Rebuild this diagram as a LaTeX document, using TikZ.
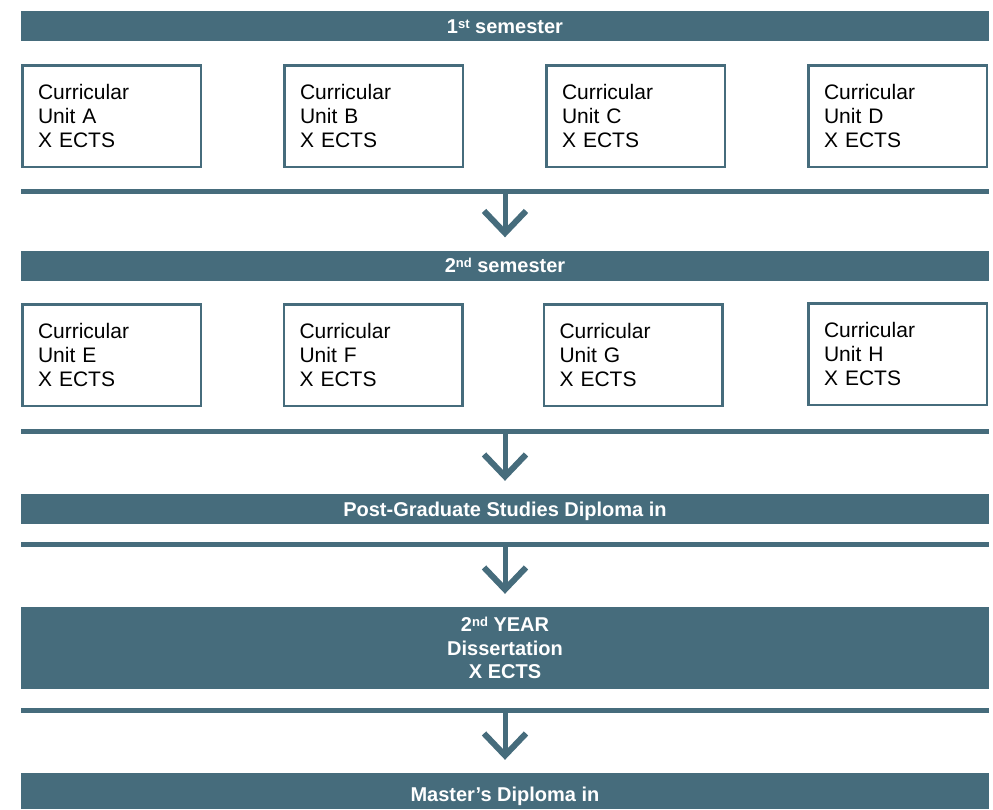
\documentclass[tikz,border=0pt]{standalone}
\usepackage{fontspec}
\setmainfont{Liberation Sans}
\usetikzlibrary{positioning,arrows.meta}
\definecolor{slate}{RGB}{70,108,124}
\newcommand{\cunit}[1]{Curricular\\Unit #1\\X ECTS}
\newcommand{\ordsup}[1]{\raisebox{5pt}{\fontsize{13}{13}\selectfont #1}}
\tikzset{
	bar/.style={fill=slate, text=white, font=\bfseries\fontsize{20}{24}\selectfont,
		minimum width=968pt, minimum height=30pt, inner sep=0pt, text height=14pt, text depth=0pt},
	sepline/.style={fill=slate, minimum width=968pt, minimum height=5pt, inner sep=0pt},
	ucbox/.style={draw=slate, line width=2.5pt, minimum width=178.5pt, minimum height=101.5pt,
		text width=147pt, align=left, inner sep=0pt, font=\fontsize{21}{24}\selectfont},
	down/.style={draw=slate, line width=5pt, -{Straight Barb[length=22pt,width=42pt,line width=6pt]}, shorten >=13pt}
}

\begin{document}
\begin{tikzpicture}[x=1pt,y=-1pt]
	\useasboundingbox (0,0) rectangle (993,809);

	% first semester
	\node[bar] (sem1) at (505,26) {1\ordsup{st} semester};
	\node[ucbox] (ua) at (111.5,116) {\cunit{A}};
	\node[ucbox] (ub) at (373.5,116) {\cunit{B}};
	\node[ucbox] (uc) at (635.5,116) {\cunit{C}};
	\node[ucbox] (ud) at (897.5,116) {\cunit{D}};
	\node[sepline] (sep1) at (505,191) {};

	% second semester
	\node[bar] (sem2) at (505,265.5) {2\ordsup{nd} semester};
	\node[ucbox] (ue) at (111.5,355) {\cunit{E}};
	\node[ucbox] (uf) at (373,355) {\cunit{F}};
	\node[ucbox] (ug) at (633,355) {\cunit{G}};
	\node[ucbox] (uh) at (897.5,354) {\cunit{H}};
	\node[sepline] (sep2) at (505,431) {};

	\node[bar] (pgdip) at (505,509) {Post-Graduate Studies Diploma in};
	\node[sepline] (sep3) at (505,544) {};

	\node[bar, minimum height=82pt, align=center, text height=, text depth=,
		font=\bfseries\fontsize{20}{23.5}\selectfont] (year2) at (505,648)
		{2\ordsup{nd} YEAR\\Dissertation\\X ECTS};
	\node[sepline] (sep4) at (505,710) {};

	\node[bar, minimum height=36pt, text height=20pt] (master) at (505,791) {Master’s Diploma in};

	\draw[down] (sep1.south) -- (sem2.north);
	\draw[down] (sep2.south) -- (pgdip.north);
	\draw[down] (sep3.south) -- (year2.north);
	\draw[down] (sep4.south) -- (master.north);
\end{tikzpicture}
\end{document}
